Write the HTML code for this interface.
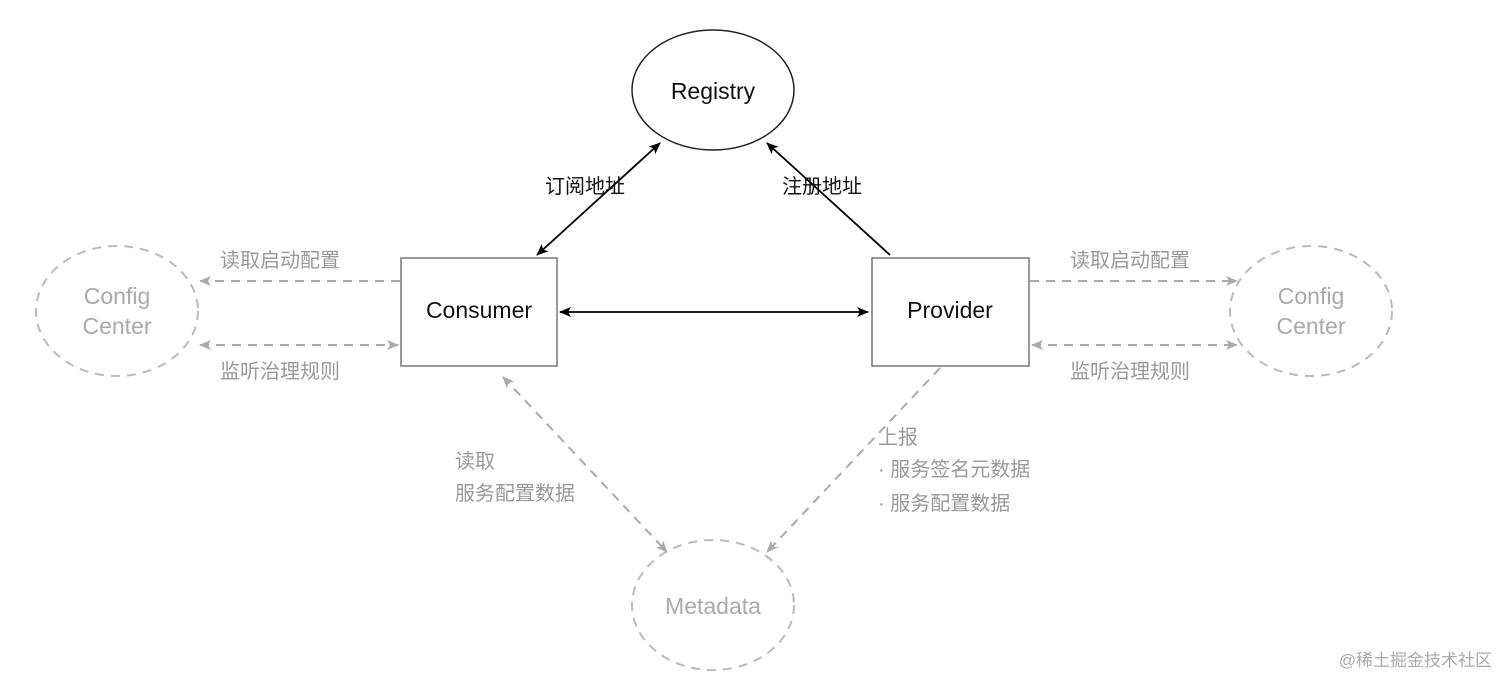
<!DOCTYPE html>
<html><head><meta charset="utf-8"><style>
html,body{margin:0;padding:0;background:#fff;width:1512px;height:689px;overflow:hidden}
text{font-family:"Liberation Sans","Noto Sans CJK SC",sans-serif}
</style></head><body>
<svg width="1512" height="689" viewBox="0 0 1512 689" xmlns="http://www.w3.org/2000/svg">
<defs>
<marker id="ab" markerWidth="12" markerHeight="10" refX="11" refY="5" orient="auto-start-reverse" markerUnits="userSpaceOnUse"><path d="M0,0 L12,5 L0,10 L3,5 z" fill="#000"/></marker>
<marker id="ag" markerWidth="12" markerHeight="10" refX="11" refY="5" orient="auto-start-reverse" markerUnits="userSpaceOnUse"><path d="M0,0 L12,5 L0,10 L3,5 z" fill="#aaa"/></marker>
</defs>
<!-- nodes -->
<ellipse cx="713" cy="90" rx="81" ry="60" fill="#fff" stroke="#222" stroke-width="1.5"/>
<text x="713" y="99" font-size="23" text-anchor="middle" fill="#111">Registry</text>
<rect x="401" y="258" width="156" height="108" fill="#fff" stroke="#777" stroke-width="1.5"/>
<text x="479" y="318" font-size="23" text-anchor="middle" fill="#111">Consumer</text>
<rect x="872" y="258" width="157" height="108" fill="#fff" stroke="#777" stroke-width="1.5"/>
<text x="950" y="318" font-size="23" text-anchor="middle" fill="#111">Provider</text>
<g fill="none" stroke="#bbb" stroke-width="2" stroke-dasharray="9,7">
<ellipse cx="117" cy="311" rx="81" ry="65"/>
<ellipse cx="1311" cy="311" rx="81" ry="65"/>
<ellipse cx="713" cy="605" rx="81" ry="65"/>
</g>
<g font-size="23" fill="#aaa" text-anchor="middle">
<text x="117" y="304">Config</text><text x="117" y="334">Center</text>
<text x="1311" y="304">Config</text><text x="1311" y="334">Center</text>
<text x="713" y="614">Metadata</text>
</g>
<!-- black connectors -->
<g stroke="#000" stroke-width="1.8" fill="none">
<line x1="537" y1="255" x2="660" y2="143" marker-start="url(#ab)" marker-end="url(#ab)"/>
<line x1="890" y1="255" x2="767" y2="143" marker-end="url(#ab)"/>
<line x1="560" y1="312" x2="868" y2="312" marker-start="url(#ab)" marker-end="url(#ab)"/>
</g>
<!-- grey dashed connectors -->
<g stroke="#aaa" stroke-width="2" fill="none" stroke-dasharray="9,7">
<line x1="400" y1="281" x2="200" y2="281" marker-end="url(#ag)"/>
<line x1="200" y1="345" x2="398" y2="345" marker-start="url(#ag)" marker-end="url(#ag)"/>
<line x1="1030" y1="281" x2="1237" y2="281" marker-end="url(#ag)"/>
<line x1="1032" y1="345" x2="1237" y2="345" marker-start="url(#ag)" marker-end="url(#ag)"/>
<line x1="503" y1="377" x2="667" y2="552" marker-start="url(#ag)" marker-end="url(#ag)"/>
<line x1="940" y1="368" x2="767" y2="552" marker-end="url(#ag)"/>
</g>
<!-- labels -->
<g font-size="20" fill="#111">
<text x="545" y="193">订阅地址</text>
<text x="782" y="193">注册地址</text>
</g>
<g font-size="20" fill="#999">
<text x="220" y="267">读取启动配置</text>
<text x="220" y="378">监听治理规则</text>
<text x="1070" y="267">读取启动配置</text>
<text x="1070" y="378">监听治理规则</text>
<text x="455" y="468">读取</text>
<text x="455" y="500">服务配置数据</text>
<text x="878" y="444">上报</text>
<text x="878" y="476">· 服务签名元数据</text>
<text x="878" y="510">· 服务配置数据</text>
</g>
<text x="1492" y="666" font-size="17" fill="#aaa" text-anchor="end">@稀土掘金技术社区</text>
</svg>
</body></html>
